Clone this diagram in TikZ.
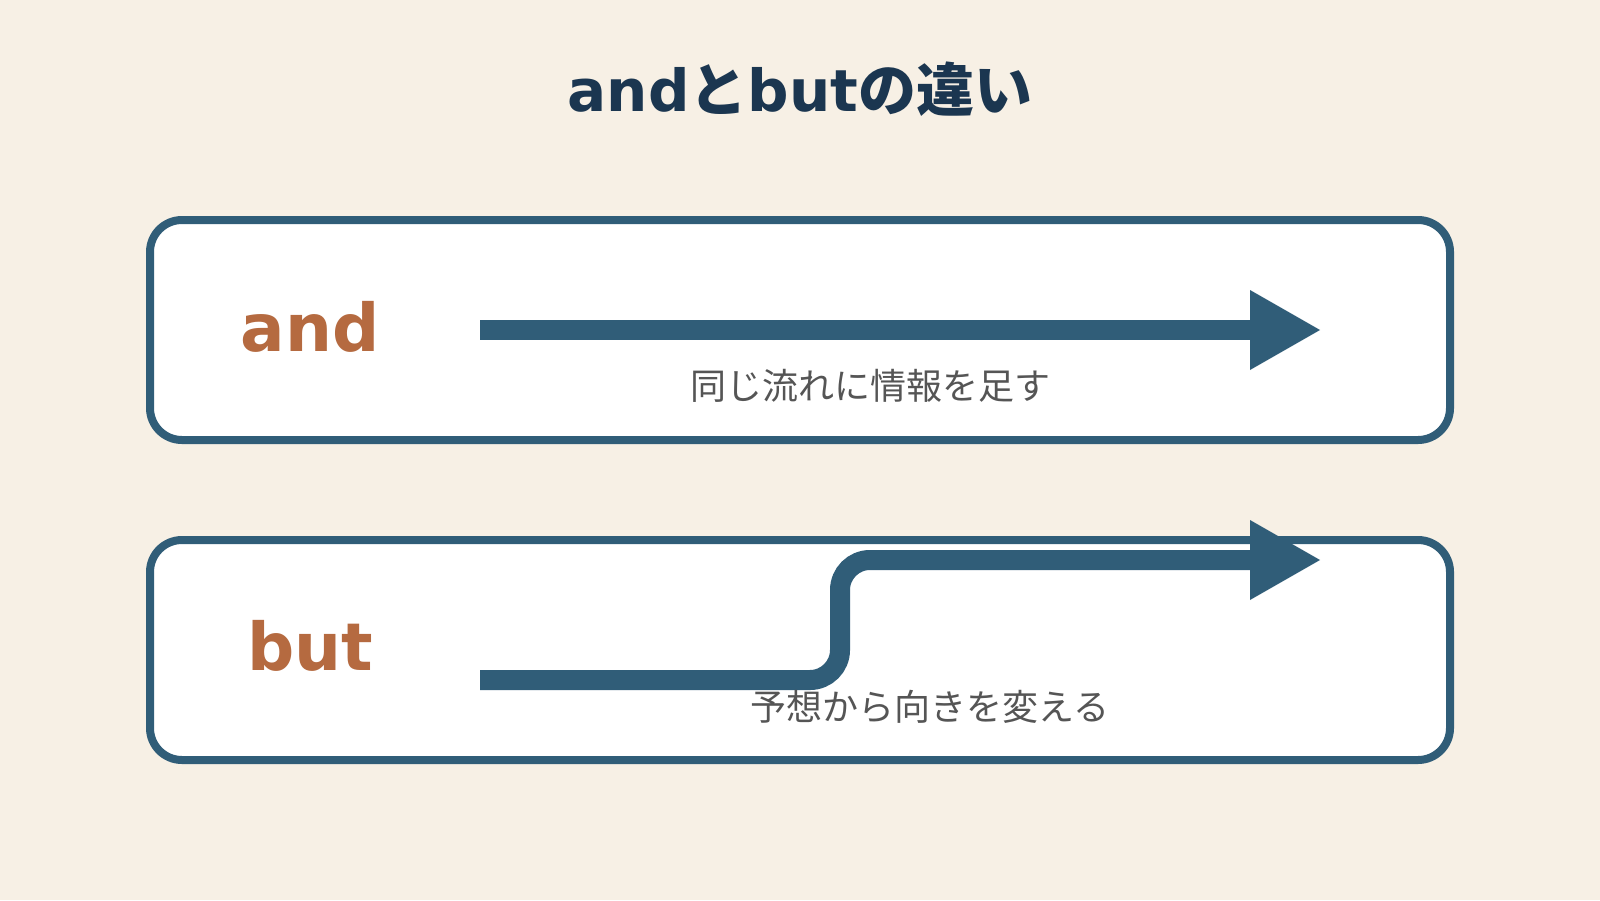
\documentclass[tikz,border=0pt]{standalone}
\usepackage{fontspec}
\setmainfont{DejaVu Sans}
\newfontfamily\cjk{Noto Sans CJK JP}
\definecolor{bgc}{HTML}{F7F0E5}
\definecolor{navy}{HTML}{1B3650}
\definecolor{steel}{HTML}{305D78}
\definecolor{rust}{HTML}{B56A40}
\definecolor{capgray}{HTML}{555555}
\begin{document}
\begin{tikzpicture}[x=1pt,y=-1pt,
  panel/.style={draw=steel, line width=8pt, fill=white, rounded corners=32pt,
    minimum width=1300pt, minimum height=220pt, inner sep=0pt, outer sep=0pt},
  wordlab/.style={text=rust, font=\fontsize{66}{70}\selectfont\bfseries, anchor=base, inner sep=0pt},
  captext/.style={text=capgray, font=\fontsize{36}{40}\selectfont\cjk, anchor=base, inner sep=0pt},
  shaft/.style={draw=steel, line width=20pt},
  headtip/.style={fill=steel}
]
\useasboundingbox (0,0) rectangle (1600,900);
\fill[bgc] (0,0) rectangle (1600,900);

\node[text=navy, anchor=base, inner sep=0pt, font=\fontsize{58}{62}\selectfont\bfseries] (title) at (800,111)
  {and{\cjk と}but{\cjk の違い}};

% and panel
\node[panel] (andbox) at (800,330) {};
\node[wordlab] (andlab) at (310,351) {and};
\coordinate (a1) at (480,330);
\coordinate (a2) at (1250,330);
\draw[shaft] (a1) -- (a2);
\fill[headtip] (a2) -- ++(0,-40) -- ++(70,40) -- ++(-70,40) -- cycle;
\node[captext] (andcap) at (870,399) {同じ流れに情報を足す};

% but panel
\node[panel] (butbox) at (800,650) {};
\node[wordlab] (butlab) at (310,670) {but};
\coordinate (b1) at (480,680);
\coordinate (b2) at (1250,560);
\draw[shaft, rounded corners=30pt] (b1) -- (840,680) -- (840,560) -- (b2);
\fill[headtip] (b2) -- ++(0,-40) -- ++(70,40) -- ++(-70,40) -- cycle;
\node[captext] (butcap) at (930,720) {予想から向きを変える};
\end{tikzpicture}
\end{document}
